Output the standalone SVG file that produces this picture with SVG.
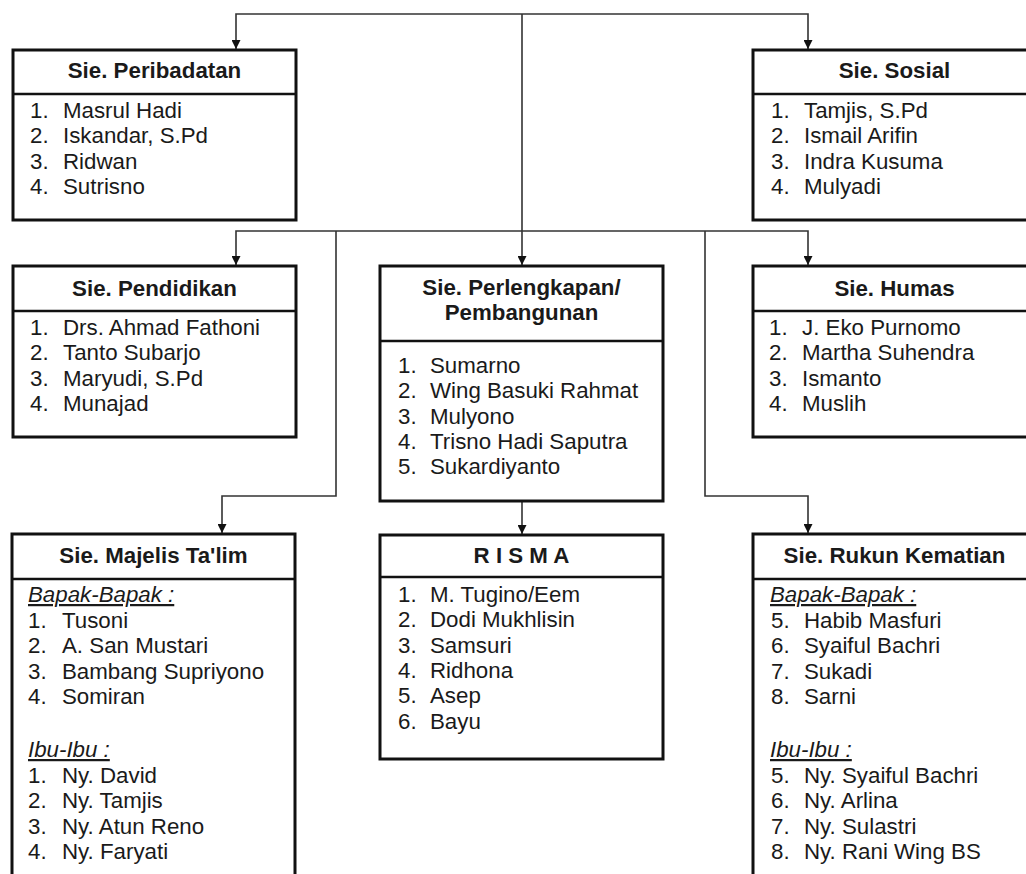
<svg xmlns="http://www.w3.org/2000/svg" width="1026" height="874" viewBox="0 0 1026 874">
<style>
.box{fill:#fff;stroke:#111;stroke-width:3}
.div{stroke:#111;stroke-width:2.5}
.t{font-family:"Liberation Sans",Arial,sans-serif;font-size:22.3px;fill:#1a1a1a}
.h{font-weight:bold;text-anchor:middle}
.sub{font-style:italic;text-decoration:underline}
.c{fill:none;stroke:#333;stroke-width:1.6}
</style>
<defs>
<marker id="arr" viewBox="0 0 10 10" refX="10" refY="5" markerWidth="11" markerHeight="9" markerUnits="userSpaceOnUse" orient="auto">
<path d="M0,0 L10,5 L0,10 z" fill="#111"/>
</marker>
</defs>
<rect width="1026" height="874" fill="#fff"/>
<g id="connectors">
<path class="c" d="M522,14 H236 V49" marker-end="url(#arr)"/>
<path class="c" d="M522,14 H808 V49" marker-end="url(#arr)"/>
<path class="c" d="M522,14 V265" marker-end="url(#arr)"/>
<path class="c" d="M522,231 H236 V265" marker-end="url(#arr)"/>
<path class="c" d="M522,231 H808 V265" marker-end="url(#arr)"/>
<path class="c" d="M336,231 V496 H222 V533" marker-end="url(#arr)"/>
<path class="c" d="M705,231 V496 H808 V533" marker-end="url(#arr)"/>
<path class="c" d="M522,501 V534" marker-end="url(#arr)"/>
</g>
<g id="peribadatan">
<rect class="box" x="13" y="50" width="283" height="170"/>
<line class="div" x1="13" y1="94" x2="296" y2="94"/>
<text class="t h" x="154.5" y="78">Sie. Peribadatan</text>
<g class="t">
<text x="30" y="118">1.</text><text x="63" y="118">Masrul Hadi</text>
<text x="30" y="143.3">2.</text><text x="63" y="143.3">Iskandar, S.Pd</text>
<text x="30" y="168.6">3.</text><text x="63" y="168.6">Ridwan</text>
<text x="30" y="194">4.</text><text x="63" y="194">Sutrisno</text>
</g>
</g>
<g id="sosial">
<rect class="box" x="753" y="50" width="283" height="170"/>
<line class="div" x1="753" y1="94" x2="1036" y2="94"/>
<text class="t h" x="894.5" y="78">Sie. Sosial</text>
<g class="t">
<text x="771" y="118">1.</text><text x="804" y="118">Tamjis, S.Pd</text>
<text x="771" y="143.3">2.</text><text x="804" y="143.3">Ismail Arifin</text>
<text x="771" y="168.6">3.</text><text x="804" y="168.6">Indra Kusuma</text>
<text x="771" y="194">4.</text><text x="804" y="194">Mulyadi</text>
</g>
</g>
<g id="pendidikan">
<rect class="box" x="13" y="266" width="283" height="171"/>
<line class="div" x1="13" y1="311" x2="296" y2="311"/>
<text class="t h" x="154.5" y="296">Sie. Pendidikan</text>
<g class="t">
<text x="30" y="335">1.</text><text x="63" y="335">Drs. Ahmad Fathoni</text>
<text x="30" y="360.3">2.</text><text x="63" y="360.3">Tanto Subarjo</text>
<text x="30" y="385.6">3.</text><text x="63" y="385.6">Maryudi, S.Pd</text>
<text x="30" y="411">4.</text><text x="63" y="411">Munajad</text>
</g>
</g>
<g id="perlengkapan">
<rect class="box" x="380" y="266" width="283" height="235"/>
<line class="div" x1="380" y1="341" x2="663" y2="341"/>
<text class="t h" x="521.5" y="295">Sie. Perlengkapan/</text>
<text class="t h" x="521.5" y="320">Pembangunan</text>
<g class="t">
<text x="398" y="373">1.</text><text x="430" y="373">Sumarno</text>
<text x="398" y="398.3">2.</text><text x="430" y="398.3">Wing Basuki Rahmat</text>
<text x="398" y="423.6">3.</text><text x="430" y="423.6">Mulyono</text>
<text x="398" y="449">4.</text><text x="430" y="449">Trisno Hadi Saputra</text>
<text x="398" y="474.3">5.</text><text x="430" y="474.3">Sukardiyanto</text>
</g>
</g>
<g id="humas">
<rect class="box" x="753" y="266" width="283" height="171"/>
<line class="div" x1="753" y1="311" x2="1036" y2="311"/>
<text class="t h" x="894.5" y="296">Sie. Humas</text>
<g class="t">
<text x="769" y="335">1.</text><text x="802" y="335">J. Eko Purnomo</text>
<text x="769" y="360.3">2.</text><text x="802" y="360.3">Martha Suhendra</text>
<text x="769" y="385.6">3.</text><text x="802" y="385.6">Ismanto</text>
<text x="769" y="411">4.</text><text x="802" y="411">Muslih</text>
</g>
</g>
<g id="majelis">
<rect class="box" x="12" y="534" width="283" height="360"/>
<line class="div" x1="12" y1="579" x2="295" y2="579"/>
<text class="t h" x="153.5" y="563">Sie. Majelis Ta'lim</text>
<g class="t">
<text class="sub" x="28" y="602">Bapak-Bapak :</text>
<text x="28" y="628">1.</text><text x="62" y="628">Tusoni</text>
<text x="28" y="653.3">2.</text><text x="62" y="653.3">A. San Mustari</text>
<text x="28" y="678.6">3.</text><text x="62" y="678.6">Bambang Supriyono</text>
<text x="28" y="704">4.</text><text x="62" y="704">Somiran</text>
<text class="sub" x="28" y="757">Ibu-Ibu :</text>
<text x="28" y="783">1.</text><text x="62" y="783">Ny. David</text>
<text x="28" y="808.3">2.</text><text x="62" y="808.3">Ny. Tamjis</text>
<text x="28" y="833.6">3.</text><text x="62" y="833.6">Ny. Atun Reno</text>
<text x="28" y="859">4.</text><text x="62" y="859">Ny. Faryati</text>
</g>
</g>
<g id="risma">
<rect class="box" x="380" y="535" width="283" height="224"/>
<line class="div" x1="380" y1="577" x2="663" y2="577"/>
<text class="t h" x="521.5" y="563">R I S M A</text>
<g class="t">
<text x="398" y="602">1.</text><text x="430" y="602">M. Tugino/Eem</text>
<text x="398" y="627.3">2.</text><text x="430" y="627.3">Dodi Mukhlisin</text>
<text x="398" y="652.6">3.</text><text x="430" y="652.6">Samsuri</text>
<text x="398" y="678">4.</text><text x="430" y="678">Ridhona</text>
<text x="398" y="703.3">5.</text><text x="430" y="703.3">Asep</text>
<text x="398" y="728.6">6.</text><text x="430" y="728.6">Bayu</text>
</g>
</g>
<g id="rukun">
<rect class="box" x="753" y="534" width="283" height="360"/>
<line class="div" x1="753" y1="579" x2="1036" y2="579"/>
<text class="t h" x="894.5" y="563">Sie. Rukun Kematian</text>
<g class="t">
<text class="sub" x="770" y="602">Bapak-Bapak :</text>
<text x="771" y="628">5.</text><text x="804" y="628">Habib Masfuri</text>
<text x="771" y="653.3">6.</text><text x="804" y="653.3">Syaiful Bachri</text>
<text x="771" y="678.6">7.</text><text x="804" y="678.6">Sukadi</text>
<text x="771" y="704">8.</text><text x="804" y="704">Sarni</text>
<text class="sub" x="770" y="757">Ibu-Ibu :</text>
<text x="771" y="783">5.</text><text x="804" y="783">Ny. Syaiful Bachri</text>
<text x="771" y="808.3">6.</text><text x="804" y="808.3">Ny. Arlina</text>
<text x="771" y="833.6">7.</text><text x="804" y="833.6">Ny. Sulastri</text>
<text x="771" y="859">8.</text><text x="804" y="859">Ny. Rani Wing BS</text>
</g>
</g>
</svg>
